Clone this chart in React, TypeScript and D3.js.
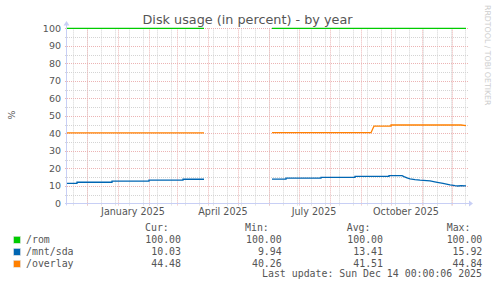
import React from "react";
import * as d3 from "d3";

const W = 497;
const H = 288;

const title = "Disk usage (in percent) - by year";
const yAxisLabel = "%";
const watermark = "RRDTOOL / TOBI OETIKER";
const lastUpdate = "Last update: Sun Dec 14 00:00:06 2025";

const yTicks = [0, 10, 20, 30, 40, 50, 60, 70, 80, 90, 100];
const yMinorTicks = [5, 15, 25, 35, 45, 55, 65, 75, 85, 95];
const xLabelMonths = ["2025-01-01", "2025-04-01", "2025-07-01", "2025-10-01"];

const romDates = ["2024-11-11", "2025-03-28", "2025-03-29", "2025-06-04", "2025-12-15"];
const romValues: (number | null)[] = [100, 100, null, 100, 100];

const sdaDates = [
  "2024-11-11", "2024-11-21", "2024-11-21", "2024-12-26", "2024-12-26", "2025-02-01", "2025-02-01",
  "2025-03-07", "2025-03-07", "2025-03-28", "2025-03-29",
  "2025-06-04", "2025-06-18", "2025-06-18", "2025-07-23", "2025-07-23", "2025-08-26", "2025-08-26",
  "2025-09-29", "2025-09-29", "2025-10-12", "2025-10-14", "2025-10-17", "2025-10-20", "2025-10-25",
  "2025-10-30", "2025-11-09", "2025-11-15", "2025-11-22", "2025-11-29", "2025-12-04", "2025-12-07",
  "2025-12-10", "2025-12-15",
];
const sdaValues: (number | null)[] = [
  11.5, 11.5, 12.1, 12.1, 12.7, 12.7, 13.3,
  13.3, 13.8, 13.8, null,
  13.9, 13.9, 14.4, 14.4, 14.9, 14.9, 15.4,
  15.4, 15.9, 15.9, 15.3, 14.6, 14.0, 13.6,
  13.3, 12.9, 12.2, 11.4, 10.6, 10.1, 9.94,
  10.1, 10.03,
];

const overlayDates = [
  "2024-11-11", "2025-03-28", "2025-03-29", "2025-06-04", "2025-09-11", "2025-09-14",
  "2025-10-01", "2025-10-01", "2025-12-10", "2025-12-15",
];
const overlayValues: (number | null)[] = [40.3, 40.3, null, 40.4, 40.4, 44.2, 44.2, 44.8, 44.8, 44.5];

const seriesNames = ["/rom", "/mnt/sda", "/overlay"];
const seriesColors = ["#00cc00", "#0066b3", "#ff8000"];
const statHeaders = ["Cur:", "Min:", "Avg:", "Max:"];
const curValues = ["100.00", "10.03", "44.48"];
const minValues = ["100.00", "9.94", "40.26"];
const avgValues = ["100.00", "13.41", "41.51"];
const maxValues = ["100.00", "15.92", "44.84"];

const parse = (s: string) => new Date(s + "T00:00:00Z");

export default function App() {
  const x0 = 67, x1 = 467;
  const yTop = 28.4, yBot = 203.4;
  const x = d3.scaleUtc().domain([parse("2024-11-11"), parse("2025-12-16")]).range([x0, x1]);
  const y = d3.scaleLinear().domain([0, 100]).range([yBot, yTop]);
  const [dStart, dEnd] = x.domain();

  const majorX = d3.utcMonth.range(dStart, dEnd);
  const minorX = d3.utcWeek.range(parse("2024-11-17"), dEnd, 2);

  const series = [
    { dates: romDates, values: romValues },
    { dates: sdaDates, values: sdaValues },
    { dates: overlayDates, values: overlayValues },
  ];
  const line = d3
    .line<[Date, number | null]>()
    .defined((d) => d[1] !== null)
    .x((d) => x(d[0]))
    .y((d) => y(d[1] as number));

  const font = "DejaVu Sans, sans-serif";
  const mono = "DejaVu Sans Mono, monospace";
  const textCol = "#555";
  const axisCol = "#c8cff5";
  const majorCol = "#ecb4b4";
  const minorCol = "#d4d4d4";

  const legendRowY = [242.8, 254.9, 266.8];
  const colStarts = [145, 245, 346.7, 446.7];
  const colEnds = [181, 281.7, 383, 482.3];
  const colValues = [curValues, minValues, avgValues, maxValues];

  return (
    <svg width={W} height={H} style={{ position: "absolute", left: 0, top: 0, background: "#fff" }}>
      <rect x={0} y={0} width={W} height={H} fill="#fff" />
      {/* minor grid */}
      {yMinorTicks.map((t) => (
        <line key={"ym" + t} x1={x0 - 2} x2={x1 + 1} y1={Math.round(y(t)) + 0.5} y2={Math.round(y(t)) + 0.5}
          stroke={minorCol} strokeDasharray="1,1" />
      ))}
      {minorX.map((d, i) => (
        <line key={"xm" + i} x1={Math.round(x(d)) + 0.5} x2={Math.round(x(d)) + 0.5} y1={yTop} y2={yBot + 2}
          stroke={minorCol} strokeDasharray="1,1" />
      ))}
      {/* major grid */}
      {yTicks.map((t) => (
        <line key={"yM" + t} x1={x0 - 2} x2={x1 + 1} y1={Math.round(y(t)) + 0.5} y2={Math.round(y(t)) + 0.5}
          stroke={majorCol} strokeDasharray="1,1" />
      ))}
      {majorX.map((d, i) => (
        <line key={"xM" + i} x1={Math.round(x(d)) + 0.5} x2={Math.round(x(d)) + 0.5} y1={yTop} y2={yBot + 3}
          stroke={majorCol} strokeDasharray="1,1" />
      ))}
      {/* axes */}
      <line x1={x0 - 2} x2={x1 + 3} y1={Math.round(yBot) + 0.5} y2={Math.round(yBot) + 0.5} stroke={axisCol} />
      <path d={`M${x1 + 2},${Math.round(yBot) - 2.5} L${x1 + 6},${Math.round(yBot) + 0.5} L${x1 + 2},${Math.round(yBot) + 3.5} Z`} fill={axisCol} />
      <line x1={x0 - 0.5} x2={x0 - 0.5} y1={yBot + 2} y2={yTop - 4} stroke={axisCol} />
      <path d={`M${x0 - 3.5},${yTop - 3} L${x0 - 0.5},${yTop - 7.5} L${x0 + 2.5},${yTop - 3} Z`} fill={axisCol} />
      {/* y labels */}
      {yTicks.map((t) => (
        <text key={"yl" + t} x={61} y={y(t) + 3.4} textAnchor="end" fontFamily={font} fontSize={9.5} fill={textCol}>
          {t}
        </text>
      ))}
      {/* x labels */}
      {xLabelMonths.map((m) => {
        const d = d3.utcDay.offset(parse(m), 15);
        return (
          <text key={m} x={x(d)} y={214.6} textAnchor="middle" fontFamily={font} fontSize={9.6} fill={textCol}>
            {d3.utcFormat("%B %Y")(parse(m))}
          </text>
        );
      })}
      {/* series */}
      {series.map((s, i) => (
        <path key={seriesNames[i]} d={line(s.dates.map((d, j) => [parse(d), s.values[j]])) || ""}
          fill="none" stroke={seriesColors[i]} strokeWidth={1.3} />
      ))}
      {/* title */}
      <text x={247.5} y={23.8} textAnchor="middle" fontFamily={font} fontSize={12.8} fill={textCol}>
        {title}
      </text>
      <text transform="translate(14.5,115) rotate(-90)" textAnchor="middle" fontFamily={font} fontSize={9.5} fill={textCol}>
        {yAxisLabel}
      </text>
      <text transform="translate(485.3,5) rotate(90)" textAnchor="start" fontFamily={font} fontSize={7.8} fill="#cdcdcd">
        {watermark}
      </text>
      {/* legend */}
      {statHeaders.map((h, i) => (
        <text key={h} x={colStarts[i]} y={230.8} fontFamily={mono} fontSize={9.9} fill={textCol}>{h}</text>
      ))}
      {seriesNames.map((n, i) => (
        <g key={n}>
          <rect x={13.5} y={legendRowY[i] - 6.5} width={7} height={7} fill={seriesColors[i]} stroke="#e4e4e4" strokeWidth={0.6} />
          <text x={26} y={legendRowY[i]} fontFamily={mono} fontSize={9.9} fill={textCol}>{n}</text>
          {colValues.map((vals, c) => (
            <text key={c} x={colEnds[c]} y={legendRowY[i]} textAnchor="end" fontFamily={mono} fontSize={9.9} fill={textCol}>
              {vals[i]}
            </text>
          ))}
        </g>
      ))}
      <text x={482} y={277.4} textAnchor="end" fontFamily={mono} fontSize={9.9} fill={textCol}>{lastUpdate}</text>
    </svg>
  );
}
